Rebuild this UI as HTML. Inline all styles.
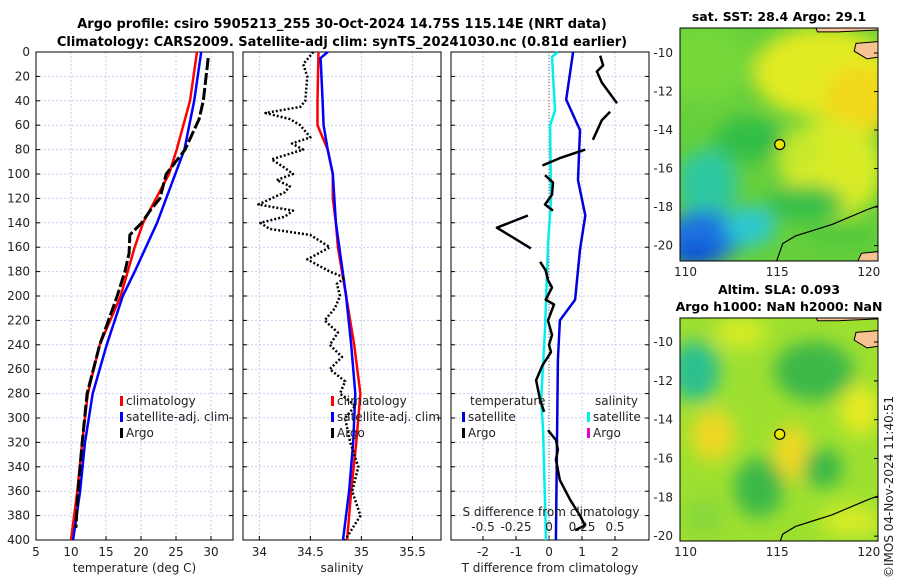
<!DOCTYPE html>
<html><head><meta charset="utf-8"><style>
body{margin:0;background:#fff;width:900px;height:580px;overflow:hidden}
svg{font-family:"DejaVu Sans","Liberation Sans",sans-serif}
</style></head><body>
<svg id="c" width="900" height="580">
<defs>
<filter id="bl" x="-50%" y="-50%" width="200%" height="200%"><feGaussianBlur stdDeviation="9"/></filter>
<clipPath id="cm1"><rect x="680" y="28" width="198" height="233"/></clipPath>
<clipPath id="cm2"><rect x="680" y="318" width="198" height="223"/></clipPath>
</defs>
<text x="342" y="28" font-size="13" font-weight="bold" text-anchor="middle">Argo profile: csiro 5905213_255 30-Oct-2024 14.75S 115.14E (NRT data)</text>
<text x="342" y="46" font-size="13" font-weight="bold" text-anchor="middle">Climatology: CARS2009. Satellite-adj clim: synTS_20241030.nc (0.81d earlier)</text>
<g id="g"></g>
</svg>
<script>
// ---- data ----
const depthTicks=[0,20,40,60,80,100,120,140,160,180,200,220,240,260,280,300,320,340,360,380,400];
const tempTicks=[5,10,15,20,25,30];
const salTicks=[34,34.5,35,35.5];
const dtTicks=[-2,-1,0,1,2];
const dsTicks=[-0.5,-0.25,0,0.25,0.5];
const climTDepth=[0,40,80,100,140,160,200,240,280,320,360,400];
const climT=[28.0,27.0,25.1,24.0,20.3,19.1,17.1,14.1,12.4,11.6,10.9,10.0];
const satTDepth=[0,40,80,100,140,180,200,240,280,320,360,400];
const satT=[28.6,27.6,26.2,24.9,22.3,19.1,17.4,15.1,13.1,12.0,11.3,10.3];
const argoTDepth=[5,40,55,80,100,120,130,140,150,165,180,200,240,280,320,360,390];
const argoT=[29.6,28.9,28.3,26.3,23.6,22.7,21.3,20.1,18.4,18.3,17.7,16.6,14.1,12.3,11.6,11.0,10.7];
const climSDepth=[0,40,60,80,100,120,140,160,200,240,280,320,360,400];
const climS=[34.58,34.57,34.57,34.67,34.72,34.72,34.75,34.77,34.85,34.93,34.99,34.95,34.90,34.86];
const satSDepth=[0,5,40,60,80,100,140,200,240,280,320,360,400];
const satS=[34.67,34.60,34.62,34.63,34.67,34.72,34.75,34.85,34.90,34.94,34.92,34.88,34.82];
const argoSDepth=[0,10,20,40,45,50,55,60,70,75,80,88,95,100,105,110,115,125,130,135,140,145,150,160,170,180,185,190,200,210,220,230,240,250,260,270,280,290,300,320,340,360,380,400];
const argoS=[34.53,34.43,34.47,34.45,34.40,34.06,34.30,34.40,34.50,34.32,34.43,34.12,34.25,34.33,34.17,34.30,34.25,33.99,34.33,34.25,34.01,34.10,34.50,34.69,34.47,34.69,34.84,34.76,34.79,34.74,34.64,34.77,34.69,34.81,34.69,34.84,34.79,34.94,34.84,34.89,34.97,34.91,34.99,34.84];
const satDTDepth=[0,39,64,105,134,162,203,220,252,326,400];
const satDT=[0.73,0.52,0.94,0.88,1.1,0.94,0.79,0.33,0.27,0.24,0.21];
const satDSDepth=[0,4,48,60,121,158,228,285,310,400];
const satDS=[0.068,0.023,0.045,0.008,0.015,-0.008,-0.03,-0.06,-0.045,-0.023];
const argoDTDepth=[3,11,16,25,42,null,49,56,72,null,80,87,93,null,101,107,117,125,130,null,134,144,161,null,172,179,187,193,203,207,220,232,240,246,257,269,285,295,null,310,318,326,334,351,367,380,388,392];
const argoDT=[1.55,1.64,1.45,1.6,2.06,null,1.85,1.6,1.33,null,1.1,0.33,-0.2,null,-0.12,0.12,0.09,-0.12,0.12,null,-0.64,-1.58,-0.55,null,-0.27,-0.1,-0.03,0.09,-0.1,0.15,-0.03,0.09,0,0.06,-0.2,-0.39,-0.27,-0.15,null,-0.03,0.21,0.27,0.21,0.33,0.64,0.94,1.09,0.79];
// ---- layout ----
const NS='http://www.w3.org/2000/svg';
const G=document.getElementById('g');
function el(t,a,p){const e=document.createElementNS(NS,t);for(const k in a)e.setAttribute(k,a[k]);(p||G).appendChild(e);return e;}
const Y0=52,Y1=540;
const yD=d=>Y0+d/400*(Y1-Y0);
const panels=[{x0:36,x1:233,min:5,max:33.14,ticks:tempTicks,name:'temperature-panel',xl:'temperature (deg C)'},
{x0:243,x1:441,min:33.84,max:35.78,ticks:salTicks,name:'salinity-panel',xl:'salinity'},
{x0:451,x1:649,min:-2.97,max:3.03,ticks:dtTicks,name:'difference-panel',xl:'T difference from climatology'}];
function xf(p){return v=>p.x0+(v-p.min)/(p.max-p.min)*(p.x1-p.x0);}
panels.forEach((p,i)=>{
  const g=el('g',{});
  
  
  const X=xf(p);
  p.ticks.forEach(t=>{const x=X(t);if(x<p.x0-1||x>p.x1+1)return;
    if(x>p.x0+1&&x<p.x1-1)el('line',{x1:x,x2:x,y1:Y0,y2:Y1,stroke:'#c8cdf0','stroke-dasharray':'2,2','stroke-width':1},g);
    const lb=el('text',{x:x,y:556,'font-size':12,'text-anchor':'middle',fill:'#222'},g);lb.textContent=t;
    
    
    el('line',{x1:x,x2:x,y1:Y1,y2:Y1-4,stroke:'#000'},g);});
  depthTicks.forEach(d=>{const y=yD(d);if(d>0&&d<400)el('line',{x1:p.x0,x2:p.x1,y1:y,y2:y,stroke:'#c8cdf0','stroke-dasharray':'2,2'},g);
    if(i==0){const lb=el('text',{x:30,y:y+4,'font-size':12,'text-anchor':'end',fill:'#222'},g);lb.textContent=d;
      
      }
    el('line',{x1:p.x0,x2:p.x0+4,y1:y,y2:y,stroke:'#000'},g);el('line',{x1:p.x1,x2:p.x1-4,y1:y,y2:y,stroke:'#000'},g);});
  el('rect',{x:p.x0,y:Y0,width:p.x1-p.x0,height:Y1-Y0,fill:'none',stroke:'#000'},g);
  const xl=el('text',{x:(p.x0+p.x1)/2,y:572,'font-size':12,'text-anchor':'middle',fill:'#222'},g);xl.textContent=p.xl;
  
  
});
function line(p,X,vals,deps,color,w,dash,name){
  let d='',pen=false;
  vals.forEach((v,k)=>{if(v===null||deps[k]===null){pen=false;return;}d+=(pen?'L':'M')+X(v).toFixed(1)+','+yD(deps[k]).toFixed(1);pen=true;});
  const e=el('path',{d:d,fill:'none',stroke:color,'stroke-width':w,'stroke-linejoin':'round'});
  if(dash)e.setAttribute('stroke-dasharray',dash);
  
  
}
const XT=xf(panels[0]),XS=xf(panels[1]),XD=xf(panels[2]);
line(0,XT,climT,climTDepth,'#f00',2.5,null,'temp-climatology-line');
line(0,XT,satT,satTDepth,'#00f',2.5,null,'temp-satellite-line');
line(0,XT,argoT,argoTDepth,'#000',3,'12,3','temp-argo-line');
line(0,XS,climS,climSDepth,'#f00',2.5,null,'sal-climatology-line');
line(0,XS,satS,satSDepth,'#00f',2.5,null,'sal-satellite-line');
line(0,XS,argoS,argoSDepth,'#000',2.5,'2,2','sal-argo-line');
el('line',{x1:XD(0),x2:XD(0),y1:Y0,y2:Y1,stroke:'#666','stroke-dasharray':'1,2'});
const XDS=v=>XD(v*4);
line(0,XD,satDT,satDTDepth,'#00d',2.5,null,'dt-satellite-line');
line(0,XDS,satDS,satDSDepth,'#0ee',2.5,null,'ds-satellite-line');
line(0,XD,argoDT,argoDTDepth,'#000',2.5,null,'dt-argo-line');
const st=el('text',{x:551,y:516,'font-size':12,'text-anchor':'middle',fill:'#222'});st.textContent='S difference from climatology';


dsTicks.forEach(t=>{const lb=el('text',{x:XDS(t),y:531,'font-size':12,'text-anchor':'middle',fill:'#222'});lb.textContent=t;
  
  });
function leg(x,y,color,txt,name){el('rect',{x:x,y:y-9,width:3,height:10,fill:color});const t=el('text',{x:x+6,y:y,'font-size':12,fill:'#222'});t.textContent=txt;
  
  }
leg(120,405,'#f00','climatology','legend-climatology');leg(120,421,'#00f','satellite-adj. clim','legend-satellite');leg(120,437,'#000','Argo','legend-argo');
leg(331,405,'#f00','climatology','legend-sal-climatology');leg(331,421,'#00f','satellite-adj. clim','legend-sal-satellite');leg(331,437,'#000','Argo','legend-sal-argo');
const tl=el('text',{x:470,y:405,'font-size':12,fill:'#222'});tl.textContent='temperature';
const sl=el('text',{x:595,y:405,'font-size':12,fill:'#222'});sl.textContent='salinity';
leg(462,421,'#00d','satellite','legend-dt-satellite');leg(462,437,'#000','Argo','legend-dt-argo');
leg(587,421,'#0ee','satellite','legend-ds-satellite');leg(587,437,'#e0c','Argo','legend-ds-argo');
// ---- maps ----
function map(y0,y1,latTop,latBot,clip,blobs,base,name,title){
  const g=el('g',{});
  
  
  const lon=v=>680+(v-109.7)/(120.5-109.7)*198, lat=v=>y0+(latTop-v)/(latTop-latBot)*(y1-y0);
  const c=el('g',{'clip-path':'url(#'+clip+')'},g);
  el('rect',{x:680,y:y0,width:198,height:y1-y0,fill:base},c);
  const bg=el('g',{filter:'url(#bl)'},c);
  blobs.forEach(b=>el('ellipse',{cx:lon(b[0]),cy:lat(b[1]),rx:b[2],ry:b[3],fill:b[4]},bg));
  const coast=[[114.9,-21],[115.3,-19.9],[116,-19.5],[117,-19.2],[118,-18.9],[119,-18.5],[120,-18.1],[120.6,-17.9]];
  let d='M'+coast.map(p=>lon(p[0])+','+lat(p[1])).join('L');
  el('path',{d:d,fill:'none',stroke:'#000','stroke-width':1.2},c);
  el('path',{d:'M'+lon(119.3)+','+lat(-21)+'L'+lon(119.6)+','+lat(-20.4)+'L'+lon(120.6)+','+lat(-20.3)+'L'+lon(120.6)+','+lat(-21)+'Z',fill:'#f7c390',stroke:'#000'},c);
  el('path',{d:'M'+lon(116.8)+','+lat(-8)+'L'+lon(117.2)+','+lat(-8.9)+'L'+lon(118.3)+','+lat(-8.9)+'L'+lon(120.6)+','+lat(-8.8)+'L'+lon(120.6)+','+lat(-8)+'Z',fill:'#f7c390',stroke:'#000'},c);
  el('path',{d:'M'+lon(120.6)+','+lat(-9.4)+'L'+lon(119.3)+','+lat(-9.5)+'L'+lon(119.2)+','+lat(-9.9)+'L'+lon(119.9)+','+lat(-10.3)+'L'+lon(120.6)+','+lat(-10.2)+'Z',fill:'#f7c390',stroke:'#000'},c);
  el('circle',{cx:lon(115.14),cy:lat(-14.75),r:5,fill:'#e8e800',stroke:'#000','stroke-width':1.2},g);
  el('rect',{x:680,y:y0,width:198,height:y1-y0,fill:'none',stroke:'#000'},g);
  [-10,-12,-14,-16,-18,-20].forEach(v=>{const t=el('text',{x:673,y:lat(v)+4,'font-size':12,'text-anchor':'end',fill:'#222'},g);t.textContent=v;
    
    
    el('line',{x1:878,x2:874,y1:lat(v),y2:lat(v),stroke:'#000'},g);});
  [110,115,120].forEach(v=>{const t=el('text',{x:lon(v),y:y1+15,'font-size':12,'text-anchor':'middle',fill:'#222'},g);t.textContent=v;
    
    });
  title.forEach((s,k)=>{const t=el('text',{x:779,y:y0-7-(title.length-1-k)*17,'font-size':12.5,'font-weight':'bold','text-anchor':'middle'},g);t.textContent=s;
    
    });
}
map(28,261,-8.7,-20.8,'cm1',[
 [111,-10.5,45,40,'#74d83a'],[117.5,-11,70,45,'#e2ea22'],[119.5,-12.5,35,35,'#f2d81c'],[118,-16,50,50,'#d8ec28'],[116,-15,25,20,'#c6e82a'],
 [113.5,-14.5,35,22,'#32bd46'],[111.2,-16.8,30,35,'#2ec8a0'],[111,-19.5,40,25,'#1f72e0'],[110.5,-20.5,25,12,'#1050d8'],[113.5,-19,25,20,'#2bc8d0'],[116.5,-17.8,40,18,'#38c048'],[118.5,-19.5,35,12,'#52c83a']
],'#66cf3c','sst-map',['sat. SST: 28.4  Argo: 29.1']);
map(318,541,-8.76,-20.25,'cm2',[
 [110.5,-11.5,25,30,'#2cbf90'],[111.5,-14.8,22,25,'#f0d820'],[113,-9.5,25,15,'#d8ec28'],[115.8,-15.7,18,28,'#f0d820'],[114,-17.5,25,30,'#3ab848'],[117,-11.5,40,30,'#3cb848'],
 [119.5,-13.5,20,25,'#e6ea20'],[117.5,-16.5,20,20,'#3ab848'],[119,-19.2,30,15,'#d8ec28'],[111,-19,20,20,'#86d83a']
],'#9ee030','sla-map',['Altim. SLA: 0.093','Argo h1000: NaN h2000: NaN']);
const ts=el('text',{x:0,y:0,'font-size':12,fill:'#222',transform:'translate(893,578) rotate(-90)'});ts.textContent='©IMOS 04-Nov-2024 11:40:51';


</script>
</body></html>
